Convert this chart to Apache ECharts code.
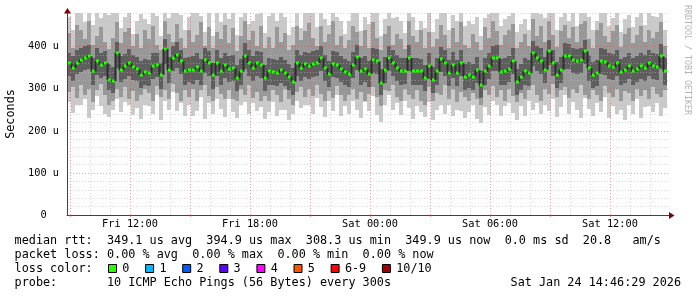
<!DOCTYPE html>
<html><head><meta charset="utf-8">
<script src="https://cdn.jsdelivr.net/npm/echarts@6/dist/echarts.min.js"></script>
<style>html,body{margin:0;padding:0;background:#fff}#c{width:697px;height:297px}</style>
</head><body><div id="c"></div>
<script>
// ---- data (microseconds), one sample every 12 minutes from Fri 08:51 ----
const median = [
361,349,361,369,373,377,341,365,357,361,
321,318,385,345,353,361,351,347,333,339,
337,353,357,333,395,345,373,381,365,341,
345,345,351,341,369,361,333,361,341,357,
347,349,325,341,379,361,349,361,357,325,
341,339,337,345,337,329,317,361,349,359,
353,359,361,373,349,335,359,357,347,339,
335,357,375,341,347,335,369,365,313,345,
373,361,349,341,343,373,341,341,341,325,
355,321,341,371,361,337,357,337,361,329,
333,329,345,308,341,353,373,373,339,341,
347,365,317,329,341,337,385,373,365,345,
389,361,333,345,379,377,369,365,369,389,
349,333,337,365,363,355,351,361,339,345,
353,341,347,353,349,361,353,351,377,341];
const innerHi = [
385,378,392,396,401,405,372,398,384,390,
360,352,410,378,382,394,380,376,365,370,
368,384,386,362,418,376,402,410,392,372,
375,378,384,370,398,390,362,392,372,386,
378,380,356,370,408,392,378,390,388,356,
372,370,368,376,368,360,350,392,380,388,
384,390,392,402,380,366,390,388,378,370,
366,388,404,372,378,366,398,394,346,376,
402,392,380,372,374,404,372,372,370,356,
386,352,372,400,392,368,388,368,392,360,
364,360,376,342,372,384,402,404,370,372,
378,396,348,360,372,368,414,402,396,376,
416,392,364,376,408,406,398,394,398,416,
380,364,368,396,394,386,382,392,370,376,
384,372,378,384,380,392,384,382,406,372];
const innerLo = [
330,318,334,340,344,348,310,333,326,331,
296,290,350,315,322,330,321,318,302,308,
306,322,328,300,360,314,342,350,334,310,
315,312,320,310,338,330,300,330,310,326,
316,318,294,310,348,330,318,330,326,294,
310,308,306,314,306,298,286,330,318,328,
322,328,330,342,318,304,328,326,316,308,
304,326,344,310,316,304,338,334,284,314,
342,330,318,310,312,342,310,310,310,294,
324,290,310,340,330,306,326,306,330,298,
302,298,314,278,310,322,342,342,308,310,
316,334,286,298,310,306,354,342,334,314,
356,330,302,314,348,346,338,334,338,358,
318,302,306,334,332,324,320,330,308,314,
322,310,316,322,318,330,322,320,346,310];
const midHi = [
432,398,452,440,418,462,405,425,446,412,
394,420,458,408,436,445,402,430,396,440,
418,448,405,392,462,430,410,455,420,398,
440,412,428,458,402,446,396,436,418,452,
408,444,390,426,460,415,438,402,450,396,
422,398,446,410,432,392,405,448,415,438,
456,420,402,448,410,430,462,405,426,398,
415,450,436,402,440,396,458,420,392,430,
448,405,430,418,395,462,425,410,440,398,
436,400,418,452,428,396,445,412,458,405,
398,430,410,392,446,420,462,438,405,428,
440,455,398,412,430,402,465,426,448,410,
460,428,400,438,452,420,446,410,455,462,
418,396,440,456,425,410,438,452,400,430,
445,408,428,450,412,440,420,436,458,402];
const midLo = [
292,305,278,310,286,300,268,296,312,284,
262,270,300,280,304,276,295,270,285,300,
290,272,306,280,298,275,312,290,270,296,
280,300,272,296,310,282,270,305,288,276,
296,275,270,300,285,310,278,292,270,282,
272,298,285,268,300,276,262,292,305,280,
300,282,310,288,272,295,278,306,284,270,
285,300,276,292,270,288,305,280,260,298,
295,310,280,270,300,286,276,298,272,262,
305,270,290,284,310,276,300,268,292,280,
270,290,276,262,298,285,306,280,296,272,
300,282,268,290,275,296,310,284,270,300,
288,312,280,296,305,278,300,290,310,284,
276,298,285,270,306,290,280,300,272,295,
290,270,300,282,296,276,305,288,280,296];
const outerHi = [
470,440,480,480,458,480,452,480,468,480,
475,480,480,445,470,480,430,462,478,466,
455,480,472,425,480,468,480,480,476,440,
470,480,480,472,436,480,425,480,458,480,
466,480,428,470,480,455,462,478,480,432,
472,480,462,480,470,428,446,480,445,480,
480,480,446,480,466,452,480,470,462,430,
460,480,480,438,470,455,480,480,425,466,
480,468,470,462,432,480,470,440,462,445,
480,436,466,480,480,440,476,462,480,450,
460,455,470,425,468,478,480,480,448,466,
472,480,436,455,466,440,480,480,478,468,
480,480,440,470,480,462,480,450,480,480,
470,440,462,480,480,450,468,480,436,466,
476,446,470,480,452,480,474,470,480,440];
const outerLo = [
268,242,262,262,275,230,250,282,258,240,
232,250,276,245,268,262,238,255,228,262,
258,240,285,226,270,250,292,248,266,235,
262,236,248,280,228,265,240,275,252,232,
276,245,230,262,268,240,266,248,256,228,
245,268,236,250,250,226,240,270,255,262,
262,240,278,256,232,270,248,286,236,258,
240,272,250,230,268,246,282,238,222,262,
285,250,266,238,272,255,228,260,244,232,
268,226,250,262,240,262,236,250,248,230,
244,262,228,218,256,238,270,262,235,258,
266,242,226,258,236,270,250,266,240,262,
248,275,232,256,286,240,268,250,230,278,
252,236,266,244,280,230,258,240,250,226,
262,240,275,230,256,258,244,266,236,255];

const startHour = 8.85;   // Fri 08:51, hours since Fri 00:00
const stepHours = 0.2;    // 12 minutes
const axisEndHour = 38.95;
const xTickHours = [12, 18, 24, 30, 36];
const xTickLabels = ['Fri 12:00', 'Fri 18:00', 'Sat 00:00', 'Sat 06:00', 'Sat 12:00'];
const yMax = 480;
const lossLabels = ['0', '1', '2', '3', '4', '5', '6-9', '10/10'];
const lossColors = ['#26ff00', '#00b8ff', '#0059ff', '#5e00ff', '#ff00ff', '#ff5500', '#ff0000', '#a10000'];
const legendLines = [
  'median rtt:  349.1 us avg  394.9 us max  308.3 us min  349.9 us now  0.0 ms sd  20.8   am/s',
  'packet loss: 0.00 % avg  0.00 % max  0.00 % min  0.00 % now',
  'loss color:',
  'probe:       10 ICMP Echo Pings (56 Bytes) every 300s'
];
const dateText = 'Sat Jan 24 14:46:29 2026';

// ---- build ----
const times = median.map((_, i) => startHour + i * stepHours);
const smokeData = times.map((t, i) => [t, outerLo[i], outerHi[i], midLo[i], midHi[i], innerLo[i], innerHi[i]]);
const medianData = times.map((t, i) => [t, median[i]]);
const gridHours = [];
for (let h = Math.ceil(startHour); h < axisEndHour; h++) gridHours.push([h, 0]);
const majorHours = gridHours.map(d => d[0]).filter(h => h % 3 === 0);

const MONO = '"DejaVu Sans Mono", monospace';
const AXIS = '#2c4d43';
const ARROW = '#7f0000';
const MINOR = 'rgba(186,186,186,0.55)';
const MAJOR = 'rgba(224,80,80,0.55)';
const smokeColors = ['#cacaca', '#989898', '#5e5e5e'];

const G = {left: 67, top: 13, width: 602, height: 202};

const graphics = [];
const lineY = [241, 255, 269, 283];
const legendFont = '11.8px ' + MONO;
const charW = 7.1;
legendLines.forEach((s, k) => {
  graphics.push({type: 'text', x: 14.6, y: lineY[k], silent: true,
    style: {text: s, font: legendFont, fill: '#000', textVerticalAlign: 'middle', verticalAlign: 'middle'}});
});
graphics.push({type: 'text', x: 681, y: lineY[3], silent: true,
  style: {text: dateText, font: legendFont, fill: '#000', textAlign: 'right', align: 'right', textVerticalAlign: 'middle', verticalAlign: 'middle'}});
let bx = 108;
lossLabels.forEach((lab, k) => {
  graphics.push({type: 'rect', silent: true, shape: {x: bx + 0.5, y: 264.5, width: 8, height: 8},
    style: {fill: lossColors[k], stroke: '#000', lineWidth: 1}});
  graphics.push({type: 'text', x: bx + 14.3, y: lineY[2], silent: true,
    style: {text: lab, font: legendFont, fill: '#000', textVerticalAlign: 'middle', verticalAlign: 'middle'}});
  bx += 30 + charW * lab.length;
});
graphics.push({type: 'text', x: 11, y: G.top + G.height / 2, rotation: Math.PI / 2, silent: true,
  style: {text: 'Seconds', font: '11.8px ' + MONO, fill: '#000', textAlign: 'center', align: 'center', textVerticalAlign: 'middle', verticalAlign: 'middle'}});
graphics.push({type: 'text', x: 687, y: 60, rotation: -Math.PI / 2, silent: true,
  style: {text: 'RRDTOOL / TOBI OETIKER', font: '8.3px ' + MONO, fill: '#b4b4b4', textAlign: 'center', align: 'center', textVerticalAlign: 'middle', verticalAlign: 'middle'}});
// axis arrows
graphics.push({type: 'polygon', silent: true, z: 50,
  shape: {points: [[G.left - 3, G.top + 0.5], [G.left + 4, G.top + 0.5], [G.left + 0.5, G.top - 5]]}, style: {fill: ARROW}});
const ax = G.left + G.width, ay = G.top + G.height + 0.5;
graphics.push({type: 'polygon', silent: true, z: 50,
  shape: {points: [[ax, ay - 3.5], [ax, ay + 3.5], [ax + 5.5, ay]]}, style: {fill: ARROW}});

const chart = echarts.init(document.getElementById('c'), null, {renderer: 'canvas'});
chart.setOption({
  animation: false,
  backgroundColor: '#fff',
  grid: {left: G.left, top: G.top, width: G.width, height: G.height, containLabel: false},
  xAxis: {
    type: 'value', min: startHour, max: axisEndHour, z: 3,
    axisLine: {show: true, lineStyle: {color: AXIS, width: 1}},
    axisTick: {show: true, customValues: majorHours, length: 2, lineStyle: {color: MAJOR}},
    axisLabel: {customValues: xTickHours, margin: 4, fontFamily: MONO, fontSize: 10.3, color: '#000',
      formatter: v => xTickLabels[xTickHours.indexOf(Math.round(v))] || ''},
    splitLine: {show: false}
  },
  yAxis: {
    type: 'value', min: 0, max: yMax, interval: 20, z: 3,
    axisLine: {show: true, lineStyle: {color: AXIS, width: 1}},
    axisTick: {show: false},
    axisLabel: {margin: 8, fontFamily: MONO, fontSize: 10.3, color: '#000',
      formatter: v => v === 0 ? '0  ' : (v % 100 === 0 ? v + ' u' : '')},
    splitLine: {show: true, lineStyle: {color: [MAJOR, MINOR, MINOR, MINOR, MINOR], type: [1, 2], width: 1}}
  },
  series: [
    {
      type: 'custom', name: 'smoke', z: 1, silent: true, clip: true,
      data: smokeData,
      encode: {x: 0, y: [1, 2]},
      renderItem: (params, api) => {
        const t = api.value(0);
        const x0 = Math.round(api.coord([t, 0])[0]);
        const x1 = Math.round(api.coord([t + stepHours, 0])[0]);
        const kids = [];
        for (let L = 0; L < 3; L++) {
          const lo = api.value(1 + L * 2), hi = api.value(2 + L * 2);
          const y0 = Math.round(api.coord([t, hi])[1]);
          const y1 = Math.round(api.coord([t, lo])[1]);
          kids.push({type: 'rect', shape: {x: x0, y: y0, width: x1 - x0, height: y1 - y0},
            style: {fill: smokeColors[L]}});
        }
        return {type: 'group', children: kids};
      }
    },
    {
      type: 'custom', name: 'grid', z: 3, silent: true, clip: true,
      data: gridHours,
      renderItem: (params, api) => {
        const h = api.value(0);
        const x = Math.round(api.coord([h, 0])[0]) + 0.5;
        const yb = api.coord([h, 0])[1];
        const yt = api.coord([h, yMax])[1];
        return {type: 'line', shape: {x1: x, y1: yb, x2: x, y2: yt},
          style: {stroke: h % 3 === 0 ? MAJOR : MINOR, lineWidth: 1, lineDash: [1, 2]}};
      }
    },
    {
      type: 'custom', name: 'median', z: 5, silent: true, clip: true,
      data: medianData,
      encode: {x: 0, y: 1},
      renderItem: (params, api) => {
        const i = params.dataIndex;
        const t = api.value(0), m = api.value(1);
        const p = api.coord([t, m]);
        const x0 = Math.round(p[0]);
        const x1 = Math.round(api.coord([t + stepHours, m])[0]);
        const kids = [];
        if (i > 0) {
          const pp = api.coord([t, median[i - 1]]);
          kids.push({type: 'line', shape: {x1: x0 + 0.5, y1: pp[1], x2: x0 + 0.5, y2: p[1]},
            style: {stroke: '#2e2e2e', lineWidth: 2}});
        }
        kids.push({type: 'rect', shape: {x: x0 + 1, y: Math.round(p[1]) - 1.5, width: x1 - x0 - 1, height: 3},
          style: {fill: lossColors[0]}});
        return {type: 'group', children: kids};
      }
    }
  ],
  graphic: graphics
});
</script>
</body></html>
